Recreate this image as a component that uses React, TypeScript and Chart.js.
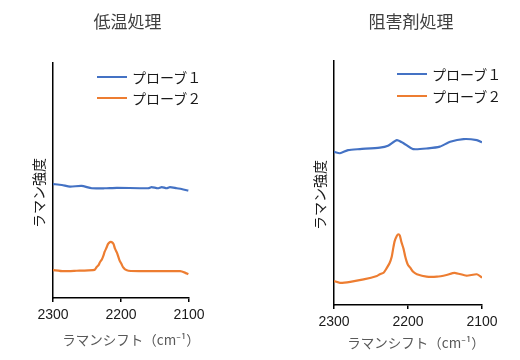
import { useEffect, useRef } from "react";
import { Chart, registerables } from "chart.js";

Chart.register(...registerables);

const FONT_JP = '"Noto Sans CJK JP", "Noto Sans", sans-serif';
const FONT_NUM = '"Liberation Sans", Arial, "Noto Sans CJK JP", sans-serif';

const panelTitles = ["低温処理", "阻害剤処理"];
const seriesNames = ["プローブ１", "プローブ２"];
const seriesColors = ["#4472C4", "#ED7D31"];
const xAxisTitle = "ラマンシフト（cm⁻¹）";
const yAxisTitle = "ラマン強度";
const xTickValues = [2300, 2200, 2100];

// 低温処理 – プローブ1
const lowTempProbe1Shift = [2300, 2287, 2275, 2258, 2243, 2224, 2206, 2160, 2155, 2146, 2140, 2133, 2128, 2118, 2111, 2101];
const lowTempProbe1Intensity = [48.5, 48.1, 47.4, 47.7, 46.7, 46.7, 46.9, 46.7, 47.2, 46.7, 47.2, 46.7, 47.2, 46.7, 46.4, 45.7];
// 低温処理 – プローブ2
const lowTempProbe2Shift = [2300, 2285, 2265, 2241, 2238, 2236, 2233, 2231, 2228, 2226, 2224, 2221, 2219, 2216, 2214, 2211, 2209, 2206, 2204, 2202, 2199, 2197, 2194, 2189, 2165, 2113, 2106, 2101];
const lowTempProbe2Intensity = [11.9, 11.4, 11.6, 11.9, 12.2, 13.1, 14.0, 15.2, 16.5, 17.9, 19.7, 21.6, 23.0, 23.8, 23.8, 23.0, 21.1, 19.3, 17.6, 15.9, 14.3, 13.1, 12.2, 11.6, 11.4, 11.4, 10.8, 10.1];
// 阻害剤処理 – プローブ1
const inhibitorProbe1Shift = [2300, 2292, 2281, 2265, 2238, 2227, 2215, 2206, 2193, 2173, 2157, 2143, 2125, 2107, 2100];
const inhibitorProbe1Intensity = [62.8, 62.2, 63.5, 63.9, 64.5, 65.3, 67.6, 66.3, 63.9, 64.2, 64.9, 66.9, 68.0, 67.6, 66.7];
// 阻害剤処理 – プローブ2
const inhibitorProbe2Shift = [2300, 2292, 2278, 2260, 2242, 2238, 2233, 2229, 2225, 2222, 2220, 2218, 2215, 2213, 2211, 2209, 2206, 2204, 2202, 2200, 2197, 2193, 2188, 2175, 2161, 2148, 2137, 2121, 2107, 2100];
const inhibitorProbe2Intensity = [9.8, 9.1, 9.5, 10.5, 11.9, 12.6, 13.2, 15.0, 17.1, 19.8, 23.2, 26.2, 28.4, 29.0, 28.4, 25.9, 23.0, 20.2, 18.0, 16.4, 15.3, 13.6, 12.6, 11.6, 11.6, 12.3, 13.2, 12.0, 12.6, 11.2];

type PanelLayout = {
  left: number;
  plotTop: number;
  yAxisWidth: number;
  xAxisHeight: number;
  padRight: number;
  titleCenter: [number, number];
  xTitleCenter: [number, number];
  yTitleCenter: [number, number];
  legendX: number;
  legendY: number[];
};

const toPoints = (xs: number[], ys: number[]) => xs.map((x, i) => ({ x, y: ys[i] }));

function buildConfig(series: { x: number; y: number }[][], L: PanelLayout): any {
  return {
    type: "line",
    data: {
      datasets: series.map((pts, i) => ({
        label: seriesNames[i],
        data: pts,
        borderColor: seriesColors[i],
        backgroundColor: seriesColors[i],
        borderWidth: 2.2,
        pointRadius: 0,
        tension: 0.2,
        fill: false,
      })),
    },
    options: {
      responsive: true,
      maintainAspectRatio: false,
      animation: false,
      events: [],
      layout: { padding: { left: 0, right: L.padRight, top: L.plotTop, bottom: 0 } },
      plugins: {
        legend: { display: false },
        tooltip: { enabled: false },
        title: { display: false },
      },
      scales: {
        x: {
          type: "linear",
          min: 2100,
          max: 2300,
          reverse: true,
          afterBuildTicks: (s: any) => {
            s.ticks = xTickValues.map((v) => ({ value: v }));
          },
          afterFit: (s: any) => {
            s.height = L.xAxisHeight;
          },
          ticks: {
            color: "#1a1a1a",
            font: { family: FONT_NUM, size: 14 },
            padding: 5,
            maxRotation: 0,
            callback: (v: any) => String(v),
          },
          grid: {
            display: true,
            drawOnChartArea: false,
            drawTicks: true,
            tickLength: 4,
            color: "#000",
            lineWidth: 1.5,
          },
          border: { display: true, color: "#000", width: 1.5 },
          title: { display: false },
        },
        y: {
          type: "linear",
          min: 0,
          max: 100,
          afterFit: (s: any) => {
            s.width = L.yAxisWidth;
          },
          ticks: { display: false },
          grid: { display: false },
          border: { display: true, color: "#000", width: 1.5 },
          title: { display: false },
        },
      },
    },
  };
}

const centered = (cx: number, cy: number, extra: any = {}, rotate = 0): any => ({
  position: "absolute",
  left: cx,
  top: cy,
  transform: `translate(-50%, -50%)${rotate ? ` rotate(${rotate}deg)` : ""}`,
  whiteSpace: "nowrap",
  lineHeight: 1,
  fontFamily: FONT_JP,
  ...extra,
});

function Panel({ title, series, layout }: { title: string; series: { x: number; y: number }[][]; layout: PanelLayout }) {
  const ref = useRef<HTMLCanvasElement>(null);
  useEffect(() => {
    const chart = new Chart(ref.current as HTMLCanvasElement, buildConfig(series, layout));
    return () => chart.destroy();
  }, []);
  return (
    <div style={{ position: "absolute", left: layout.left, top: 0, width: 260, height: 360 }}>
      <canvas ref={ref} />
      <div style={centered(layout.titleCenter[0], layout.titleCenter[1], { fontSize: 17, color: "#404040" })}>{title}</div>
      <div style={centered(layout.xTitleCenter[0], layout.xTitleCenter[1], { fontSize: 13.5, color: "#595959" })}>{xAxisTitle}</div>
      <div style={centered(layout.yTitleCenter[0], layout.yTitleCenter[1], { fontSize: 14, color: "#1a1a1a" }, -90)}>{yAxisTitle}</div>
      {seriesNames.map((name, i) => (
        <div
          key={name}
          style={{
            position: "absolute",
            left: layout.legendX,
            top: layout.legendY[i] - 10,
            height: 20,
            display: "flex",
            alignItems: "center",
            whiteSpace: "nowrap",
          }}
        >
          <span style={{ display: "inline-block", width: 30, height: 2, background: seriesColors[i], marginRight: 5 }} />
          <span style={{ fontFamily: FONT_JP, fontSize: 14, color: "#1a1a1a", lineHeight: "20px" }}>{name}</span>
        </div>
      ))}
    </div>
  );
}

const leftLayout: PanelLayout = {
  left: 0,
  plotTop: 63,
  yAxisWidth: 53,
  xAxisHeight: 62,
  padRight: 71,
  titleCenter: [127.5, 20],
  xTitleCenter: [131, 340],
  yTitleCenter: [38, 193],
  legendX: 97,
  legendY: [76.5, 98],
};

const rightLayout: PanelLayout = {
  left: 260,
  plotTop: 61,
  yAxisWidth: 74,
  xAxisHeight: 55,
  padRight: 38,
  titleCenter: [151, 20],
  xTitleCenter: [156, 342.5],
  yTitleCenter: [59, 195],
  legendX: 137,
  legendY: [74, 96],
};

export default function App() {
  const lowTempSeries = [
    toPoints(lowTempProbe1Shift, lowTempProbe1Intensity),
    toPoints(lowTempProbe2Shift, lowTempProbe2Intensity),
  ];
  const inhibitorSeries = [
    toPoints(inhibitorProbe1Shift, inhibitorProbe1Intensity),
    toPoints(inhibitorProbe2Shift, inhibitorProbe2Intensity),
  ];
  return (
    <div style={{ position: "absolute", left: 0, top: 0, width: 520, height: 360, background: "#fff" }}>
      <Panel title={panelTitles[0]} series={lowTempSeries} layout={leftLayout} />
      <Panel title={panelTitles[1]} series={inhibitorSeries} layout={rightLayout} />
    </div>
  );
}
